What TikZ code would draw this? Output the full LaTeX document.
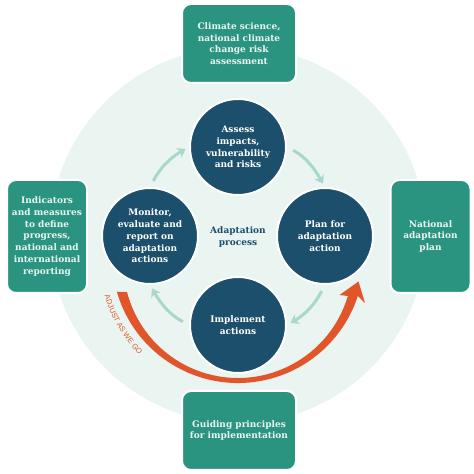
\documentclass[tikz,border=0pt]{standalone}
\usepackage{fontspec}
\setmainfont{DejaVu Serif}
\newfontfamily\adjfont{Liberation Sans}
\usetikzlibrary{arrows.meta,decorations.text}
\definecolor{boxteal}{HTML}{2B9480}
\definecolor{stagenavy}{HTML}{1B4F6C}
\definecolor{ringmint}{HTML}{EAF4F1}
\definecolor{arrowmint}{HTML}{A6D9CB}
\definecolor{adjorange}{HTML}{E0562A}
\definecolor{boxtext}{HTML}{EAF6F2}

\begin{document}
\begin{tikzpicture}[x=1pt,y=1pt,
	box/.style={draw=white, line width=2pt, fill=boxteal, rounded corners=9pt, text=boxtext, font=\fontsize{9}{11.7}\selectfont\bfseries, align=center, inner sep=0pt},
	stage/.style={draw=white, line width=2pt, circle, fill=stagenavy, text=white, minimum size=96pt, font=\fontsize{9}{11.7}\selectfont\bfseries, align=center, inner sep=0pt},
	cyclearrow/.style={line width=3pt, arrowmint, -{Stealth[length=8pt,width=11pt]}, shorten <=7pt, shorten >=4pt}]
			\begingroup
			\useasboundingbox (0,0) rectangle (474,474);
			\fill[ringmint] (238,239) circle (188);
			
			\node[box, minimum width=114pt, minimum height=79pt] (sci) at (239,430.5) {Climate science,\\national climate\\change risk\\assessment};
			\node[box, minimum width=80pt, minimum height=113pt] (ind) at (47,237.5) {Indicators\\and measures\\to define\\progress,\\national and\\international\\reporting};
			\node[box, minimum width=80pt, minimum height=113pt] (nap) at (430.5,237.5) {National\\adaptation\\plan};
			\node[box, minimum width=114pt, minimum height=79pt] (gp) at (239,43.5) {Guiding principles\\for implementation};
			
			\node[stage] (assess) at (238,327) {Assess\\impacts,\\vulnerability\\and risks};
			\node[stage] (plan) at (325,238) {Plan for\\adaptation\\action};
			\node[stage] (impl) at (238,149) {Implement\\actions};
			\node[stage] (monitor) at (150,238) {Monitor,\\evaluate and\\report on\\adaptation\\actions};
			\node[text=stagenavy, font=\fontsize{9}{11.7}\selectfont\bfseries, align=center] (proc) at (238,237) {Adaptation\\process};
			
			\draw[cyclearrow] (assess.east) to[out=-28, in=120] (plan.north);
			\draw[cyclearrow] (plan.south) to[out=-118, in=30] (impl.east);
			\draw[cyclearrow] (impl.west) to[out=152, in=-60] (monitor.south);
			\draw[cyclearrow] (monitor.north) to[out=62, in=-150] (assess.west);
			
			\fill[adjorange] ([shift={(238,217)}]196:126) arc[start angle=196, end angle=342, radius=126] -- (365,171) -- (358.5,192.5) -- (339.5,179) -- ([shift={(238,210.6)}]343.5:114.6) arc[start angle=343.5, end angle=194.4, radius=114.6] -- cycle;
			\path[decorate, decoration={text along path, text={|\adjfont\fontsize{7.5}{8}\selectfont|ADJUST AS WE GO}, text color=adjorange, text align=center}] ([shift={(238,217)}]193:139) arc[start angle=193, end angle=228, radius=139];
			\endgroup
\end{tikzpicture}
\end{document}
